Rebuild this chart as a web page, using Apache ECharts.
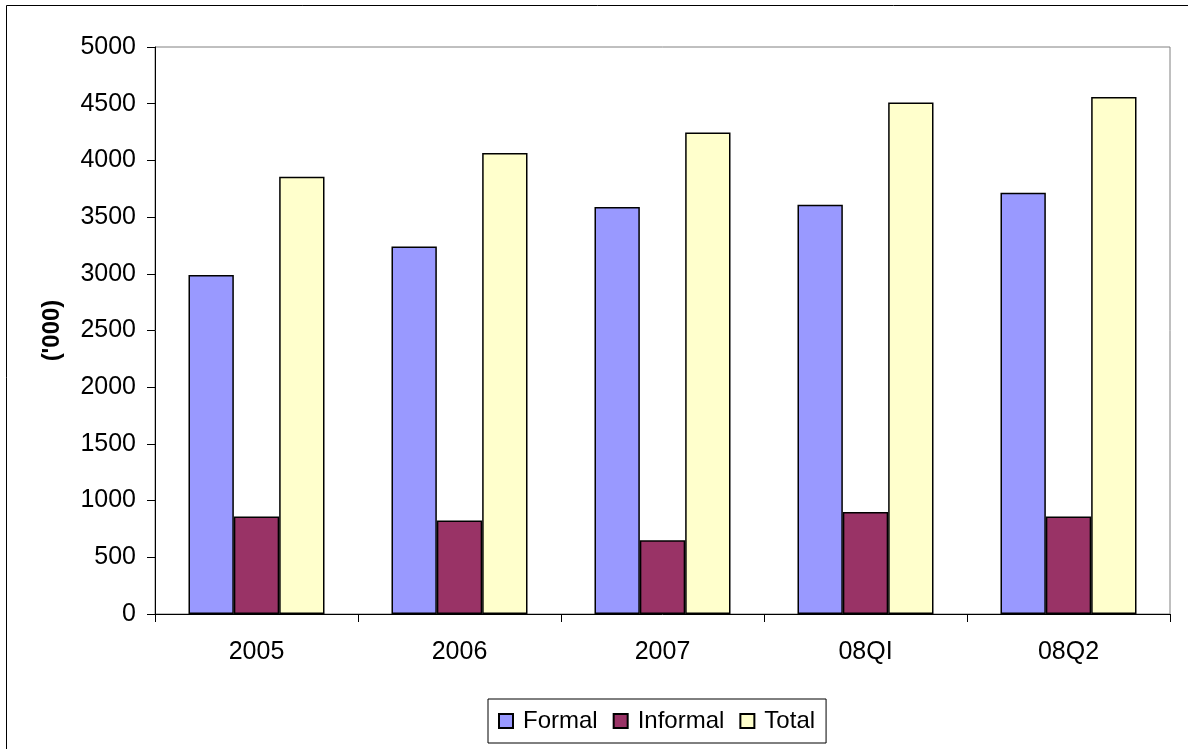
<!DOCTYPE html>
<html>
<head>
<meta charset="utf-8">
<script src="https://cdn.jsdelivr.net/npm/echarts@6/dist/echarts.min.js"></script>
<style>
  html, body { margin: 0; padding: 0; background: #fff; }
  #chart { width: 1188px; height: 749px; }
</style>
</head>
<body>
<div id="chart"></div>
<script>
// Employment by sector, thousands of workers
const categories = ['2005', '2006', '2007', '08QI', '08Q2'];
const formal   = [2990, 3240, 3590, 3610, 3715];
const informal = [860, 825, 650, 900, 860];
const total    = [3855, 4065, 4245, 4510, 4560];
const yTicks   = { min: 0, max: 5000, interval: 500 };

const FONT = 'Liberation Sans, Arial, sans-serif';

const chart = echarts.init(document.getElementById('chart'), null, { renderer: 'canvas' });

function barSeries(name, data, color) {
  return {
    name: name,
    type: 'bar',
    data: data,
    barGap: '0%',
    barCategoryGap: '33%',
    itemStyle: { color: color, borderColor: '#000', borderWidth: 1.5 },
    emphasis: { disabled: true }
  };
}

chart.setOption({
  animation: false,
  backgroundColor: '#fff',
  graphic: [{
    type: 'rect',
    shape: { x: 6.5, y: 5.5, width: 1200, height: 800 },
    style: { fill: null, stroke: '#000', lineWidth: 1 },
    z: -1
  }],
  grid: {
    left: 155, top: 47, right: 18, bottom: 135,
    show: true, borderColor: '#808080', borderWidth: 1, backgroundColor: 'transparent'
  },
  legend: {
    bottom: 6,
    left: 488,
    itemWidth: 14,
    itemHeight: 14,
    itemGap: 15,
    icon: 'rect',
    borderColor: '#000',
    borderWidth: 1,
    padding: [10, 11, 10, 10],
    textStyle: { fontFamily: FONT, fontSize: 24, color: '#000', padding: [0, 0, 0, 5] },
    data: [
      { name: 'Formal' },
      { name: 'Informal', textStyle: { padding: [0, 7, 0, 5] } },
      { name: 'Total' }
    ]
  },
  xAxis: {
    type: 'category',
    data: categories,
    axisLine: { lineStyle: { color: '#000', width: 1 } },
    axisTick: { show: true, inside: false, length: 8, alignWithLabel: false, lineStyle: { color: '#000' } },
    axisLabel: { fontFamily: FONT, fontSize: 25, color: '#000', margin: 26 },
    splitLine: { show: false }
  },
  yAxis: {
    type: 'value',
    min: yTicks.min,
    max: yTicks.max,
    interval: yTicks.interval,
    name: "('000)",
    nameLocation: 'middle',
    nameGap: 91,
    nameRotate: 90,
    nameTextStyle: { fontFamily: FONT, fontSize: 24, fontWeight: 'bold', color: '#000' },
    axisLine: { show: true, lineStyle: { color: '#000', width: 1 } },
    axisTick: { show: true, inside: false, length: 8, lineStyle: { color: '#000' } },
    axisLabel: { fontFamily: FONT, fontSize: 25, color: '#000', margin: 19, formatter: v => String(v) },
    splitLine: { show: false }
  },
  series: [
    barSeries('Formal', formal, '#9999FF'),
    barSeries('Informal', informal, '#993366'),
    barSeries('Total', total, '#FFFFCC')
  ]
});
</script>
</body>
</html>
